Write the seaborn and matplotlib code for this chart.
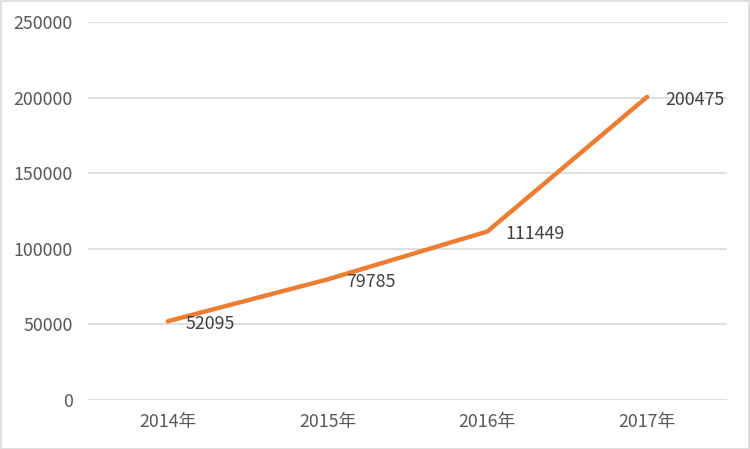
import pandas as pd
import matplotlib
matplotlib.use("Agg")
import matplotlib.pyplot as plt
import seaborn as sns

# data
years = ["2014年", "2015年", "2016年", "2017年"]
values = [52095, 79785, 111449, 200475]

sns.set_style("white")
plt.rcParams['font.family'] = ['Noto Sans CJK SC', 'DejaVu Sans']

df = pd.DataFrame({"year": years, "value": values})

fig = plt.figure(figsize=(7.5, 4.49), dpi=100)
ax = fig.add_axes([88 / 750, 1 - 400 / 449, (727 - 88) / 750, (400 - 22) / 449])

sns.lineplot(data=df, x="year", y="value", color="#ED7D31", linewidth=3.2,
             ax=ax, sort=False, solid_capstyle="round")

ax.set_xlim(-0.5, 3.5)
ax.set_ylim(0, 250000)
ax.set_yticks(range(0, 250001, 50000))
ax.yaxis.grid(True, color="#d9d9d9", linewidth=1.2)
ax.set_axisbelow(True)
for s in ax.spines.values():
    s.set_visible(False)
ax.tick_params(axis="both", length=0, labelsize=12.8, labelcolor="#595959")
ax.tick_params(axis="y", pad=11)
ax.tick_params(axis="x", pad=9)
ax.set_xlabel("")
ax.set_ylabel("")

# data labels
for i, v in enumerate(values):
    ax.annotate(str(v), (i, v), xytext=(13, -2), textcoords="offset points",
                ha="left", va="center", fontsize=12.8, color="#404040")

# chart border
fig.patches.append(plt.Rectangle((0.001, 0.001), 0.997, 0.997, transform=fig.transFigure,
                                 fill=False, edgecolor="#d9d9d9", linewidth=1.2))

fig.savefig("out.png", dpi=100)
